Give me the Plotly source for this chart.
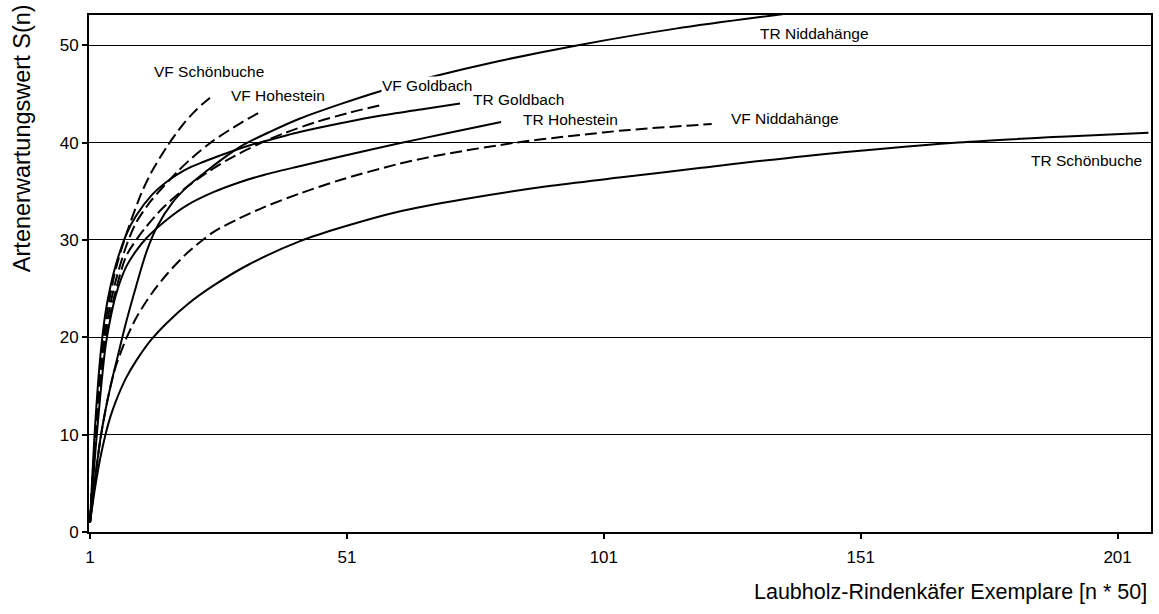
import plotly.graph_objects as go

# Rarefaction curves: expected species S(n) vs. sample size (n * 50 beetles)
# VF = dashed, TR = solid

vf_schoenbuche_n = [1, 2, 3, 4, 5, 6, 8, 11, 13, 16, 19, 21, 23, 25]
vf_schoenbuche_s = [1, 10, 17, 21.5, 24.5, 27, 30.5, 34.8, 37, 39.6, 41.8, 43.0, 44.0, 44.9]

vf_hohestein_n = [1, 2, 3, 4, 5, 6, 8, 10, 13, 18, 21, 25, 30, 34]
vf_hohestein_s = [1, 10, 16.5, 20.5, 23.5, 25.8, 29.3, 31.8, 34.1, 37.0, 38.5, 40.2, 41.9, 43.1]

vf_goldbach_n = [1, 2, 3, 4, 5, 6, 8, 10, 12, 15, 19.5, 24, 28, 34, 39, 45, 51, 58]
vf_goldbach_s = [1, 9, 15, 19.5, 22.5, 24.8, 28.3, 30.0, 31.4, 33.2, 35.3, 37.0, 38.3, 39.9, 41.0, 42.1, 43.0, 43.9]

vf_niddahaenge_n = [1, 2, 3, 4, 5, 6, 8, 10, 13, 16, 20, 25, 30, 35, 42, 50, 61, 70, 84, 95, 106, 122]
vf_niddahaenge_s = [1, 5.5, 9.5, 12.5, 15, 17, 19.8, 22, 24.5, 26.5, 28.7, 30.8, 32.2, 33.4, 34.8, 36.2, 37.8, 38.8, 40.0, 40.7, 41.3, 41.9]

tr_goldbach_n = [1, 2, 3, 4, 5, 6, 8, 10, 13, 16, 19.5, 23, 27, 32, 39, 42, 50, 58, 66, 73]
tr_goldbach_s = [1, 11, 18, 22.5, 25.3, 27.4, 30.5, 32.5, 34.6, 36, 37.2, 38.0, 38.8, 39.7, 40.7, 41.1, 42.0, 42.8, 43.45, 44.0]

tr_hohestein_n = [1, 2, 3, 4, 5, 6, 8, 10, 12, 16, 20, 25, 30, 35, 42, 50, 61, 70, 81]
tr_hohestein_s = [1, 8, 14, 19, 22, 24.3, 27.2, 28.9, 30.2, 32.1, 33.6, 34.9, 35.9, 36.7, 37.6, 38.6, 39.9, 40.9, 42.1]

tr_niddahaenge_n = [1, 2, 3, 4, 5, 6, 8, 10, 12, 14, 17, 20, 24, 27, 31, 36, 42, 50, 57, 68, 80, 96, 115, 136]
tr_niddahaenge_s = [1, 5.5, 9.5, 12.5, 15, 17.2, 21.5, 25.3, 28.8, 31.3, 33.8, 35.5, 37.2, 38.4, 39.8, 41.1, 42.5, 44.0, 45.2, 46.8, 48.3, 50.0, 51.7, 53.2]

tr_schoenbuche_n = [1, 2, 3, 4, 5, 6, 8, 10, 13, 16, 20, 25, 32, 42, 50, 61, 74, 90, 104, 120, 140, 170, 190, 207]
tr_schoenbuche_s = [1, 4.6, 7.6, 10, 11.9, 13.4, 15.8, 17.6, 19.8, 21.5, 23.4, 25.3, 27.5, 29.9, 31.3, 32.9, 34.2, 35.5, 36.4, 37.4, 38.6, 40.0, 40.6, 41.0]

series = [
    ("VF Schönbuche", vf_schoenbuche_n, vf_schoenbuche_s, "dash"),
    ("VF Hohestein", vf_hohestein_n, vf_hohestein_s, "dash"),
    ("VF Goldbach", vf_goldbach_n, vf_goldbach_s, "dash"),
    ("VF Niddahänge", vf_niddahaenge_n, vf_niddahaenge_s, "dash"),
    ("TR Goldbach", tr_goldbach_n, tr_goldbach_s, "solid"),
    ("TR Hohestein", tr_hohestein_n, tr_hohestein_s, "solid"),
    ("TR Niddahänge", tr_niddahaenge_n, tr_niddahaenge_s, "solid"),
    ("TR Schönbuche", tr_schoenbuche_n, tr_schoenbuche_s, "solid"),
]

# curve labels: (text, x, y)
label_pos = [
    ("VF Schönbuche", 13.2, 47.3),
    ("VF Hohestein", 28.2, 44.8),
    ("VF Goldbach", 57.6, 45.9),
    ("TR Goldbach", 75.4, 44.4),
    ("TR Hohestein", 85.0, 42.4),
    ("VF Niddahänge", 125.6, 42.5),
    ("TR Niddahänge", 131.2, 51.2),
    ("TR Schönbuche", 183.9, 38.2),
]

x_ticks = [1, 51, 101, 151, 201]
y_ticks = [0, 10, 20, 30, 40, 50]

FONT = "Liberation Sans, Arial, sans-serif"

fig = go.Figure()
for name, xs, ys, dash in series:
    fig.add_trace(go.Scatter(
        x=xs, y=ys, mode="lines", name=name,
        line=dict(color="black", width=2,
                  dash="12px,5px" if dash == "dash" else "solid",
                  shape="spline", smoothing=0.8),
        showlegend=False, hoverinfo="skip",
    ))

for text, x, y in label_pos:
    fig.add_annotation(
        x=x, y=y, xref="x", yref="y", text=text, showarrow=False,
        xanchor="left", yanchor="middle",
        font=dict(family=FONT, size=15.5, color="black"),
        bgcolor="white", borderpad=0,
    )

fig.add_annotation(
    text="Artenerwartungswert S(n)", xref="paper", yref="paper",
    x=-0.063, y=0.762, textangle=-90, showarrow=False,
    xanchor="center", yanchor="middle",
    font=dict(family=FONT, size=23.5, color="black"),
)
fig.add_annotation(
    text="Laubholz-Rindenkäfer Exemplare [n * 50]", xref="paper", yref="paper",
    x=0.811, y=-0.116, showarrow=False,
    xanchor="center", yanchor="middle",
    font=dict(family=FONT, size=21.5, color="black"),
)

fig.update_xaxes(
    range=[0.8, 207.5], tickvals=x_ticks, ticktext=[str(v) for v in x_ticks],
    showgrid=False, zeroline=False,
    showline=True, linecolor="black", linewidth=2, mirror=True,
    ticks="outside", ticklen=5, tickcolor="black", tickwidth=1.5,
    ticklabelstandoff=4,
    tickfont=dict(family=FONT, size=17, color="black"),
)
fig.update_yaxes(
    range=[0, 53.1], tickvals=y_ticks,
    showgrid=True, gridcolor="black", gridwidth=1, zeroline=False,
    showline=True, linecolor="black", linewidth=2, mirror=True,
    ticks="outside", ticklen=5, tickcolor="black", tickwidth=1.5,
    tickfont=dict(family=FONT, size=17, color="black"),
)

fig.update_layout(
    width=1159, height=614,
    margin=dict(l=89, r=6, t=15, b=82),
    paper_bgcolor="white", plot_bgcolor="white",
)

fig.write_html("out.html")
